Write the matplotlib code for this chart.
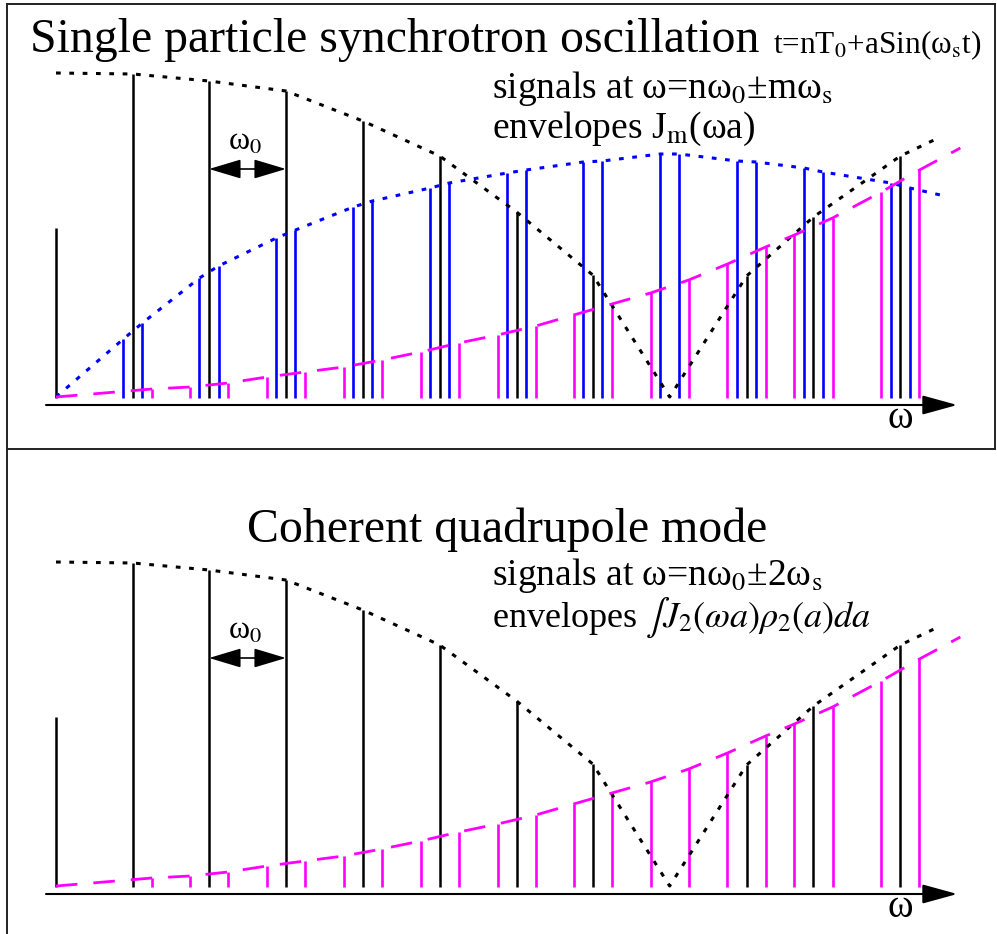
import matplotlib
matplotlib.use("Agg")
import matplotlib.pyplot as plt
from matplotlib.lines import Line2D

plt.rcParams["font.family"] = ["Liberation Serif", "DejaVu Serif"]
plt.rcParams["mathtext.fontset"] = "stix"
plt.rcParams["lines.scale_dashes"] = False

# revolution harmonics n*w0 in units of w0 (hand-placed in the sketch)
harmonics = [0.0, 1.0, 1.99, 2.99, 3.99, 4.99, 5.99, 6.98, 7.98, 8.98, 9.85, 10.98]
ws = 0.124  # synchrotron frequency in units of w0

# line amplitudes, arbitrary units; 0 means no line drawn
carrier_amp = [170, 324, 317, 307, 277, 242, 186, 123, 0, 122, 181, 242]
m1_lower = [0, 59, 120, 160, 191, 210, 225, 236, 244, 237, 230, 215]
m1_upper = [0, 75, 132, 168, 197, 215, 228, 237, 244, 236, 226, 210]
m2_lower = [0, 0, 11, 21, 31, 46, 63, 83, 105, 134, 163, 206]
m2_upper = [0, 9, 15, 26, 38, 55, 72, 94, 118, 151, 180, 228]

# envelope curves
j0_env_w = harmonics + [11.50]
j0_env_amp = [325, 324, 317, 307, 277, 242, 186, 123, 1, 122, 181, 242, 261]
j1_env_start, j1_env_end = (0.0, 1), (11.50, 203)
j2_env_start, j2_env_end = (0.0, 1), (11.76, 250)

BLUE = "#0000ff"
MAGENTA = "#ff00ff"
W, H = 997, 934


def fx(x):
    return x / W


def fy(y):
    return 1 - y / H


def sidebands(m, lower, upper):
    xs, amps = [], []
    for n, lo, up in zip(harmonics, lower, upper):
        for x, a in ((n - m * ws, lo), (n + m * ws, up)):
            if a > 0:
                xs.append(x)
                amps.append(a)
    return xs, amps


def draw_panel(ax, with_m1):
    ax.set_xlim(-56 / 76.9, (W - 56) / 76.9)
    ax.axis("off")

    # omega axis with arrow
    ax.annotate("", xy=(11.72, -7), xytext=(-0.13, -7),
                arrowprops=dict(arrowstyle="-|>,head_length=0.8,head_width=0.22",
                                mutation_scale=27, lw=1.5, color="black",
                                shrinkA=0, shrinkB=0))
    ax.text(10.98, -30, "ω", fontsize=28, ha="center", va="baseline")

    # m=2 sidebands
    x2, a2 = sidebands(2, m2_lower, m2_upper)
    ax.vlines(x2, 0, a2, color=MAGENTA, lw=1.9)
    # m=1 sidebands
    x1, a1 = sidebands(1, m1_lower, m1_upper)
    if with_m1:
        ax.vlines(x1, 0, a1, color=BLUE, lw=1.9)
    # carriers
    xc = [x for x, a in zip(harmonics, carrier_amp) if a > 0]
    ac = [a for a in carrier_amp if a > 0]
    ax.vlines(xc, 0, ac, color="black", lw=1.8)

    # envelopes
    ax.plot(j0_env_w, j0_env_amp, color="black", lw=2.2, dashes=(3.4, 6.2))
    if with_m1:
        ax.plot([j1_env_start[0]] + x1 + [j1_env_end[0]],
                [j1_env_start[1]] + a1 + [j1_env_end[1]],
                color=BLUE, lw=2.2, dashes=(3.4, 6.2))
    ax.plot([j2_env_start[0]] + x2 + [j2_env_end[0]],
            [j2_env_start[1]] + a2 + [j2_env_end[1]],
            color=MAGENTA, lw=2.0, dashes=(15.5, 11.5))

    # revolution frequency marker
    ax.annotate("", xy=(harmonics[3], 229), xytext=(harmonics[2], 229),
                arrowprops=dict(arrowstyle="<|-|>,head_length=1.0,head_width=0.3",
                                mutation_scale=20, lw=1.2, color="black",
                                shrinkA=0, shrinkB=0))
    ax.text((harmonics[2] + harmonics[3]) / 2 - 0.03, 248, r"ω$_0$", fontsize=23,
            ha="center", va="baseline")


fig = plt.figure(figsize=(W / 100, H / 100), dpi=100)

# top panel: single particle
ax1 = fig.add_axes([0, fy(449), 1, 449 / H])
ax1.set_ylim(-51, 398)
draw_panel(ax1, True)

# bottom panel: coherent quadrupole mode
ax2 = fig.add_axes([0, 0, 1, 485 / H])
ax2.set_ylim(-47, 438)
draw_panel(ax2, False)

fig.text(fx(30), fy(52), "Single particle synchrotron oscillation", fontsize=34.4,
         va="baseline")
fig.text(fx(773), fy(53), r"t=nT$_0$+aSin(ω$_\mathrm{s}$t)", fontsize=22.5,
         va="baseline")
fig.text(fx(492), fy(98), r"signals at ω=nω$_0$±mω$_\mathrm{s}$", fontsize=27,
         va="baseline")
fig.text(fx(492), fy(138), r"envelopes J$_\mathrm{m}$(ωa)", fontsize=27,
         va="baseline")

fig.text(fx(247), fy(542), "Coherent quadrupole mode", fontsize=34.4, va="baseline")
fig.text(fx(492), fy(585), r"signals at ω=nω$_0$±2ω$_\mathrm{s}$", fontsize=27,
         va="baseline")
fig.text(fx(492), fy(627), r"envelopes $\int J_2(\omega a)\rho_2(a)da$", fontsize=26,
         va="baseline")

# frame: full box round the top panel, left edge continues down
frame = dict(color="#222222", lw=1.4, transform=fig.transFigure)
fig.add_artist(Line2D([fx(7), fx(995)], [fy(4), fy(4)], **frame))
fig.add_artist(Line2D([fx(995), fx(995)], [fy(4), fy(449)], **frame))
fig.add_artist(Line2D([fx(7), fx(995)], [fy(449), fy(449)], **frame))
fig.add_artist(Line2D([fx(7), fx(7)], [fy(4), fy(934)], **frame))

fig.savefig("out.png", dpi=100)
